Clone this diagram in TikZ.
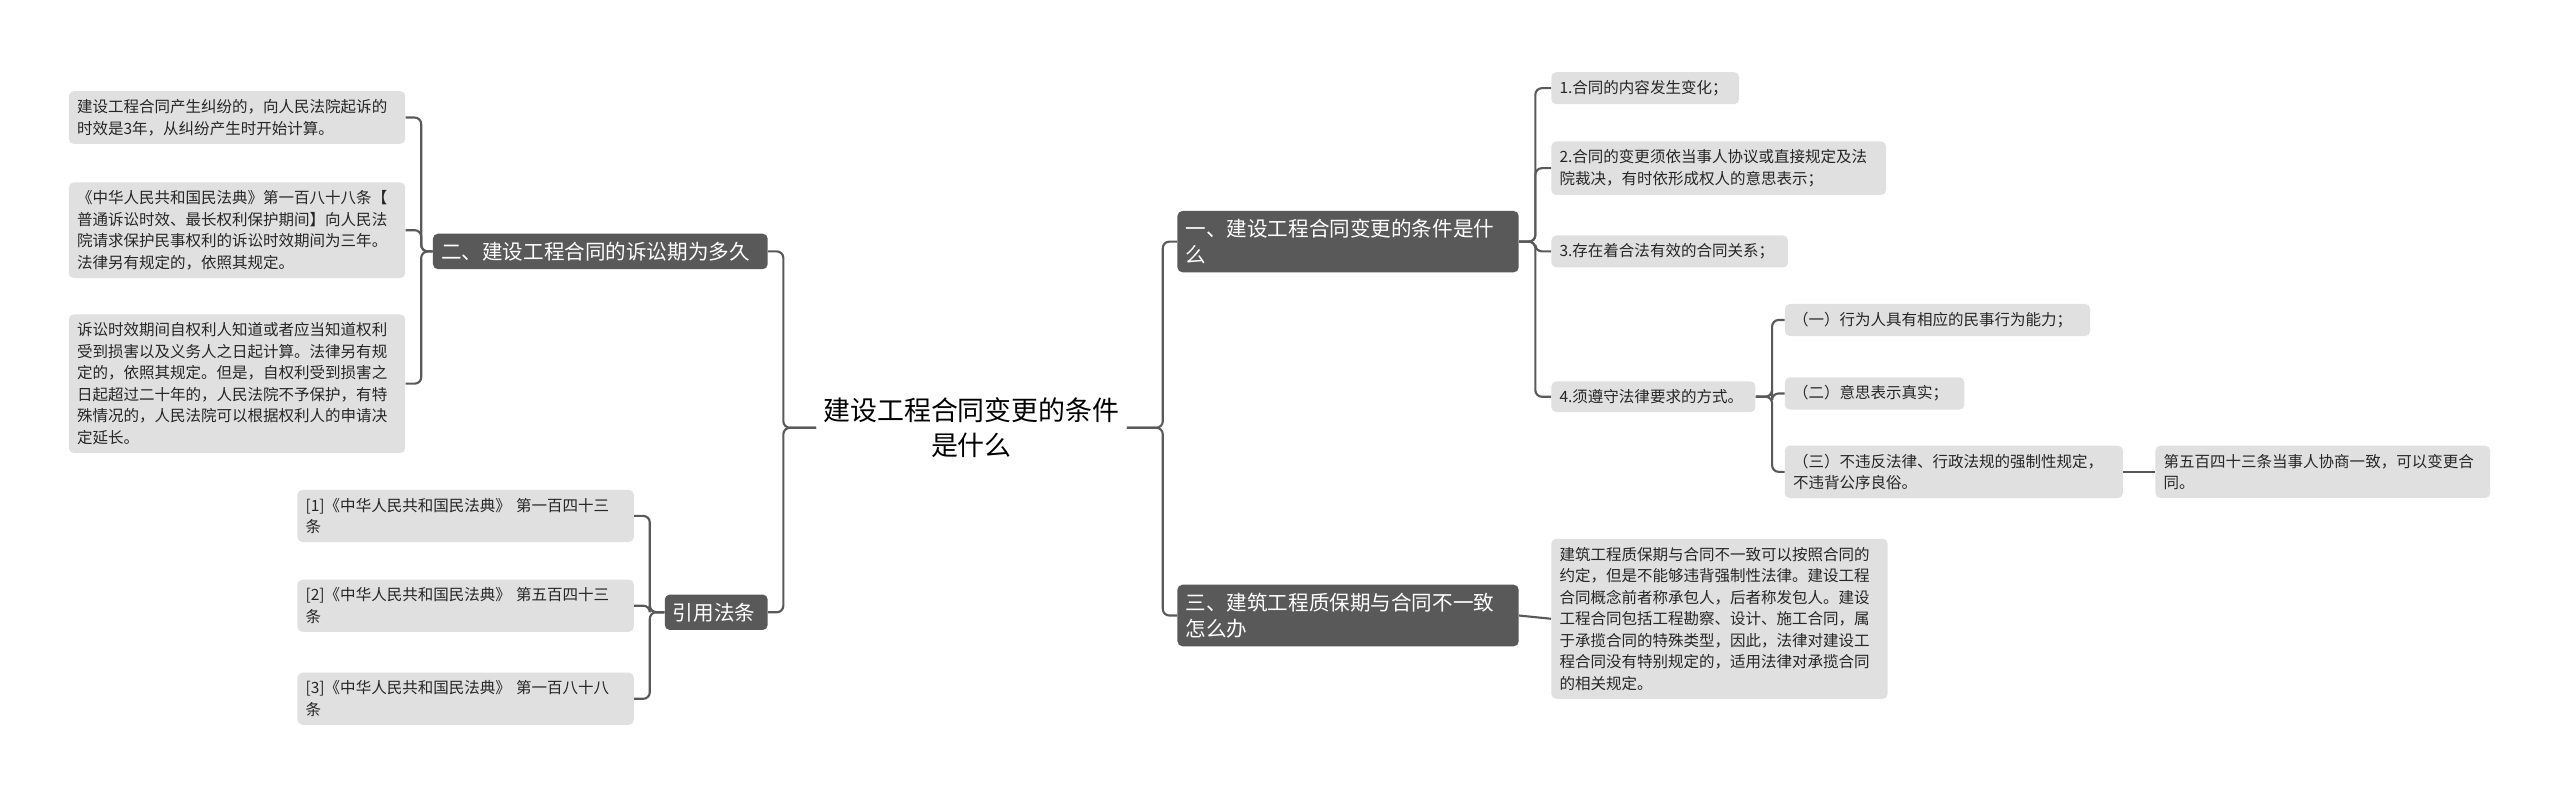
\documentclass[tikz,border=0pt]{standalone}
\usepackage{fontspec}
\setmainfont{Noto Sans CJK SC}
\begin{document}
\begin{tikzpicture}[x=1pt,y=1pt,
    topic/.style={fill=black!65,text=white,rounded corners=3pt,inner sep=5pt,anchor=west,align=left,font=\fontsize{12.6}{16}\selectfont},
    leaf/.style={fill=black!12,text=black!85,rounded corners=3pt,inner sep=5pt,anchor=west,align=left,font=\fontsize{9.5}{13.2}\selectfont},
    link/.style={draw=black!65,line width=1.3pt,rounded corners=4pt}]
            \useasboundingbox (0,0) rectangle (1568,-489);

            %center
            \node[text width=190,align=center,inner sep=0pt,font=\fontsize{16.5}{21}\selectfont] (c) at (595,-262) {建设工程合同变更的条件\\是什么};

            %left side
            \node[topic,text width=195] (b2) at (265,-154) {二、建设工程合同的诉讼期为多久};
            \node[topic,text width=53] (b4) at (407,-375) {引用法条};

            \node[leaf,text width=196] (s1) at (42,-72) {建设工程合同产生纠纷的，向人民法院起诉的\\时效是3年，从纠纷产生时开始计算。};
            \node[leaf,text width=196] (s2) at (42,-141) {《中华人民共和国民法典》第一百八十八条【\\普通诉讼时效、最长权利保护期间】向人民法\\院请求保护民事权利的诉讼时效期间为三年。\\法律另有规定的，依照其规定。};
            \node[leaf,text width=196] (s3) at (42,-235) {诉讼时效期间自权利人知道或者应当知道权利\\受到损害以及义务人之日起计算。法律另有规\\定的，依照其规定。但是，自权利受到损害之\\日起超过二十年的，人民法院不予保护，有特\\殊情况的，人民法院可以根据权利人的申请决\\定延长。};

            \node[leaf,text width=196] (r1) at (182,-316) {[1]《中华人民共和国民法典》 第一百四十三\\条};
            \node[leaf,text width=196] (r2) at (182,-371) {[2]《中华人民共和国民法典》 第五百四十三\\条};
            \node[leaf,text width=196] (r3) at (182,-428) {[3]《中华人民共和国民法典》 第一百八十八\\条};

            %right side
            \node[topic,text width=199] (b1) at (721,-148) {一、建设工程合同变更的条件是什\\么};
            \node[topic,text width=199] (b3) at (721,-377) {三、建筑工程质保期与合同不一致\\怎么办};

            \node[leaf,text width=105] (t1) at (950,-54) {1.合同的内容发生变化；};
            \node[leaf,text width=195] (t2) at (950,-103) {2.合同的变更须依当事人协议或直接规定及法\\院裁决，有时依形成权人的意思表示；};
            \node[leaf,text width=135] (t3) at (950,-154) {3.存在着合法有效的合同关系；};
            \node[leaf,text width=115] (t4) at (950,-243) {4.须遵守法律要求的方式。};

            \node[leaf,text width=177] (u1) at (1093,-196) {（一）行为人具有相应的民事行为能力；};
            \node[leaf,text width=100] (u2) at (1093,-241) {（二）意思表示真实；};
            \node[leaf,text width=197] (u3) at (1093,-289) {（三）不违反法律、行政法规的强制性规定，\\不违背公序良俗。};
            \node[leaf,text width=195] (v1) at (1320,-289) {第五百四十三条当事人协商一致，可以变更合\\同。};

            \node[leaf,text width=196] (w1) at (950,-379) {建筑工程质保期与合同不一致可以按照合同的\\约定，但是不能够违背强制性法律。建设工程\\合同概念前者称承包人，后者称发包人。建设\\工程合同包括工程勘察、设计、施工合同，属\\于承揽合同的特殊类型，因此，法律对建设工\\程合同没有特别规定的，适用法律对承揽合同\\的相关规定。};

            %links
            \draw[link] (c.west) -- ++(-20,0) |- (b2.east);
            \draw[link] (c.west) -- ++(-20,0) |- (b4.east);
            \draw[link] (c.east) -- ++(22,0) |- (b1.west);
            \draw[link] (c.east) -- ++(22,0) |- (b3.west);

            \foreach \k in {s1,s2,s3} \draw[link] (b2.west) -- ++(-7,0) |- (\k.east);
            \foreach \k in {r1,r2,r3} \draw[link] (b4.west) -- ++(-9,0) |- (\k.east);
            \foreach \k in {t1,t2,t3,t4} \draw[link] (b1.east) -- ++(10,0) |- (\k.west);
            \foreach \k in {u1,u2,u3} \draw[link] (t4.east) -- ++(10,0) |- (\k.west);
            \draw[link] (u3.east) -- (v1.west);
            \draw[link] (b3.east) -- (w1.west);
        \end{tikzpicture}
\end{document}
